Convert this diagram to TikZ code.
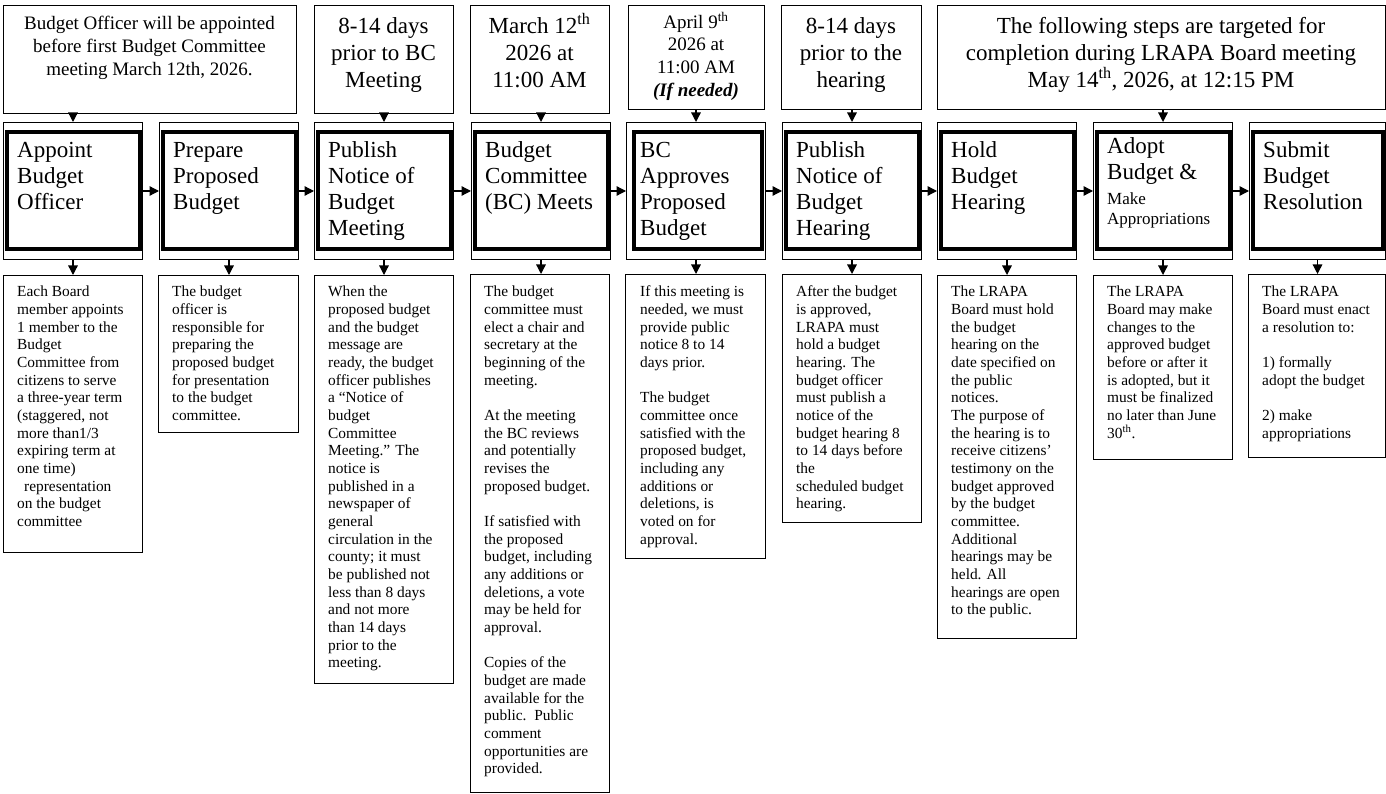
\documentclass[tikz,border=0pt]{standalone}
\usepackage{fontspec}
\setmainfont{Liberation Serif}
\usetikzlibrary{arrows.meta,calc}
\newcommand{\tstrut}{\rule{0pt}{20pt}}
\newcommand{\dstrut}{\rule{0pt}{14pt}}
\begin{document}
\begin{tikzpicture}[x=1pt,y=-1pt,
  topbox/.style={draw, line width=1.3pt, inner sep=0pt, anchor=north west},
  framebox/.style={draw, line width=1pt, inner sep=0pt, anchor=north west, minimum height=137pt},
  heavy/.style={line width=4pt},
  descbox/.style={draw, line width=1.4pt, inner sep=0pt, anchor=north west},
  toptext/.style={anchor=north, align=center, inner sep=0pt, font=\fontsize{23}{27.3}\selectfont},
  smalltop/.style={anchor=north, align=center, inner sep=0pt, font=\fontsize{19}{23}\selectfont},
  midtext/.style={anchor=north west, align=left, inner sep=0pt, font=\fontsize{23}{26}\selectfont},
  desctext/.style={anchor=north west, align=left, inner sep=0pt, font=\fontsize{15.4}{17.67}\selectfont},
  arr/.style={-{Triangle[length=9.5pt,width=9.5pt]}, line width=1.3pt}
]
\fill[white] (0,0) rectangle (1386,794);
\useasboundingbox (0,0) rectangle (1386,794);

% ---------- top boxes ----------
\node[topbox, minimum width=293pt, minimum height=108pt] (t1) at (3,5) {};
\node[topbox, minimum width=139pt, minimum height=108pt] (t2) at (314,5) {};
\node[topbox, minimum width=139pt, minimum height=108pt] (t3) at (470,5) {};
\node[topbox, minimum width=136pt, minimum height=104pt] (t4) at (628,5) {};
\node[topbox, minimum width=140pt, minimum height=104pt] (t5) at (781,5) {};
\node[topbox, minimum width=448pt, minimum height=104pt] (t6) at (937,5) {};

\node[smalltop] (tt1) at (149.5,9) {\tstrut Budget Officer will be appointed\\before first Budget Committee\\meeting March 12th, 2026.};
\node[toptext] (tt2) at (383.5,13) {\tstrut 8-14 days\\prior to BC\\Meeting};
\node[toptext] (tt3) at (539.5,13) {\tstrut March 12\textsuperscript{th}\\2026 at\\11:00 AM};
\node[smalltop, font=\fontsize{19}{22.7}\selectfont] (tt4) at (696,8) {\tstrut April 9\textsuperscript{th}\\2026 at\\11:00 AM\\\textbf{\textit{(If needed)}}};
\node[toptext] (tt5) at (851,13) {\tstrut 8-14 days\\prior to the\\hearing};
\node[toptext] (tt6) at (1161,13) {\tstrut The following steps are targeted for\\completion during LRAPA Board meeting\\May 14\textsuperscript{th}, 2026, at 12:15 PM};

% ---------- middle step boxes ----------
\node[framebox, minimum width=139pt] (m1) at (3,122) {};
\node[framebox, minimum width=139pt] (m2) at (159,122) {};
\node[framebox, minimum width=139pt] (m3) at (314,122) {};
\node[framebox, minimum width=139pt] (m4) at (471,122) {};
\node[framebox, minimum width=139pt] (m5) at (626,122) {};
\node[framebox, minimum width=139pt] (m6) at (782,122) {};
\node[framebox, minimum width=139pt] (m7) at (937,122) {};
\node[framebox, minimum width=139pt] (m8) at (1093,122) {};
\node[framebox, minimum width=136pt] (m9) at (1249,122) {};

\foreach \m in {m1,m2,m3,m4,m6,m7,m8,m9}{
  \draw[heavy] ($(\m.north west)+(3.5,10)$) rectangle ($(\m.south east)+(-3.5,-11)$);
}
\draw[heavy] ($(m5.north west)+(8,10)$) rectangle ($(m5.south east)+(-4,-11)$);

\node[midtext] (mt1) at (17,137) {\tstrut Appoint\\Budget\\Officer};
\node[midtext] (mt2) at (173,137) {\tstrut Prepare\\Proposed\\Budget};
\node[midtext] (mt3) at (328,137) {\tstrut Publish\\Notice of\\Budget\\Meeting};
\node[midtext] (mt4) at (485,137) {\tstrut Budget\\Committee\\(BC) Meets};
\node[midtext] (mt5) at (640,137) {\tstrut BC\\Approves\\Proposed\\Budget};
\node[midtext] (mt6) at (796,137) {\tstrut Publish\\Notice of\\Budget\\Hearing};
\node[midtext] (mt7) at (951,137) {\tstrut Hold\\Budget\\Hearing};
\node[midtext] (mt8) at (1107,133) {\tstrut Adopt\\Budget \&\\[-1pt]{\fontsize{17}{19}\selectfont Make}\\[-6pt]{\fontsize{17}{19}\selectfont Appropriations}};
\node[midtext] (mt9) at (1263,137) {\tstrut Submit\\Budget\\Resolution};

% ---------- description boxes ----------
\node[descbox, minimum width=139pt, minimum height=277pt] (b1) at (3,275) {};
\node[descbox, minimum width=140pt, minimum height=157pt] (b2) at (158,275) {};
\node[descbox, minimum width=139pt, minimum height=408pt] (b3) at (314,275) {};
\node[descbox, minimum width=139pt, minimum height=518pt] (b4) at (470,274) {};
\node[descbox, minimum width=140pt, minimum height=284pt] (b5) at (625,274) {};
\node[descbox, minimum width=139pt, minimum height=248pt] (b6) at (782,274) {};
\node[descbox, minimum width=139pt, minimum height=363pt] (b7) at (937,275) {};
\node[descbox, minimum width=139pt, minimum height=184pt] (b8) at (1093,275) {};
\node[descbox, minimum width=137pt, minimum height=183pt] (b9) at (1248,274) {};

\node[desctext] (d1) at (17,282.5) {\dstrut Each Board\\member appoints\\1 member to the\\Budget\\Committee from\\citizens to serve\\a three-year term\\(staggered, not\\more than1/3\\expiring term at\\one time)\\\hspace*{7pt}representation\\on the budget\\committee};
\node[desctext] (d2) at (172,282.5) {\dstrut The budget\\officer is\\responsible for\\preparing the\\proposed budget\\for presentation\\to the budget\\committee.};
\node[desctext] (d3) at (328,282.5) {\dstrut When the\\proposed budget\\and the budget\\message are\\ready, the budget\\officer publishes\\a “Notice of\\budget\\Committee\\Meeting.” The\\notice is\\published in a\\newspaper of\\general\\circulation in the\\county; it must\\be published not\\less than 8 days\\and not more\\than 14 days\\prior to the\\meeting.};
\node[desctext] (d4) at (484,282.5) {\dstrut The budget\\committee must\\elect a chair and\\secretary at the\\beginning of the\\meeting.\\[17.67pt]At the meeting\\the BC reviews\\and potentially\\revises the\\proposed budget.\\[17.67pt]If satisfied with\\the proposed\\budget, including\\any additions or\\deletions, a vote\\may be held for\\approval.\\[17.67pt]Copies of the\\budget are made\\available for the\\public.\ \ Public\\comment\\opportunities are\\provided.};
\node[desctext] (d5) at (640,282.5) {\dstrut If this meeting is\\needed, we must\\provide public\\notice 8 to 14\\days prior.\\[17.67pt]The budget\\committee once\\satisfied with the\\proposed budget,\\including any\\additions or\\deletions, is\\voted on for\\approval.};
\node[desctext] (d6) at (796,282.5) {\dstrut After the budget\\is approved,\\LRAPA must\\hold a budget\\hearing. The\\budget officer\\must publish a\\notice of the\\budget hearing 8\\to 14 days before\\the\\scheduled budget\\hearing.};
\node[desctext] (d7) at (951,282.5) {\dstrut The LRAPA\\Board must hold\\the budget\\hearing on the\\date specified on\\the public\\notices.\\The purpose of\\the hearing is to\\receive citizens’\\testimony on the\\budget approved\\by the budget\\committee.\\Additional\\hearings may be\\held. All\\hearings are open\\to the public.};
\node[desctext] (d8) at (1107,282.5) {\dstrut The LRAPA\\Board may make\\changes to the\\approved budget\\before or after it\\is adopted, but it\\must be finalized\\no later than June\\30\textsuperscript{th}.};
\node[desctext] (d9) at (1262,282.5) {\dstrut The LRAPA\\Board must enact\\a resolution to:\\[17.67pt]1) formally\\adopt the budget\\[17.67pt]2) make\\appropriations};

% ---------- connectors ----------
\draw[arr] (m1.north |- t1.south) -- (m1.north);
\draw[arr] (m3.north |- t2.south) -- (m3.north);
\draw[arr] (m4.north |- t3.south) -- (m4.north);
\draw[arr] (m5.north |- t4.south) -- (m5.north);
\draw[arr] (m6.north |- t5.south) -- (m6.north);
\draw[arr] (m8.north |- t6.south) -- (m8.north);

\draw[arr] (m1.east) -- (m2.west);
\draw[arr] (m2.east) -- (m3.west);
\draw[arr] (m3.east) -- (m4.west);
\draw[arr] (m4.east) -- (m5.west);
\draw[arr] (m5.east) -- (m6.west);
\draw[arr] (m6.east) -- (m7.west);
\draw[arr] (m7.east) -- (m8.west);
\draw[arr] (m8.east) -- (m9.west);

\foreach \i in {1,...,9}{
  \draw[arr] (m\i.south) -- (m\i.south |- b\i.north);
}
\end{tikzpicture}
\end{document}
